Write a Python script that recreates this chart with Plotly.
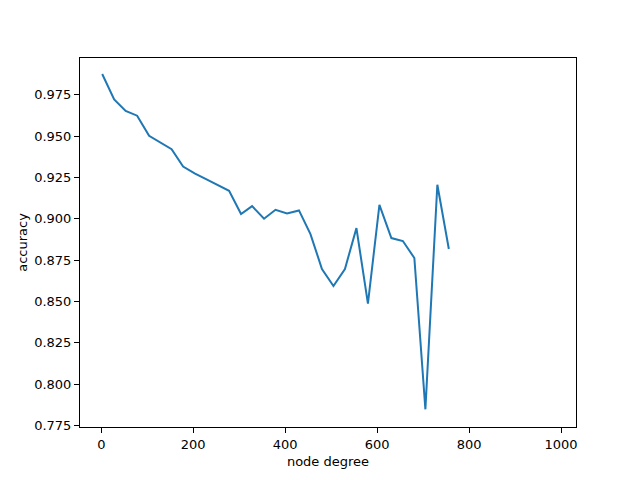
import plotly.graph_objects as go

# node degree (x) and accuracy (y)
node_degree = [2, 28, 53, 78, 104, 128, 153, 178, 204, 229, 254, 278, 304, 328, 354, 379,
               404, 430, 455, 480, 505, 530, 555, 580, 605, 631, 656, 681, 705, 731, 756]
accuracy = [0.9875, 0.9722, 0.9652, 0.9623, 0.9501, 0.9463, 0.9420, 0.9315, 0.9273, 0.9238,
            0.9203, 0.9169, 0.9028, 0.9076, 0.9000, 0.9054, 0.9032, 0.9050, 0.8907, 0.8696,
            0.8593, 0.8696, 0.8943, 0.8486, 0.9084, 0.8883, 0.8865, 0.8762, 0.7847, 0.9205, 0.8817]

x_ticks = [0, 200, 400, 600, 800, 1000]
y_ticks = [0.775, 0.800, 0.825, 0.850, 0.875, 0.900, 0.925, 0.950, 0.975]

fig = go.Figure()
fig.add_trace(go.Scatter(x=node_degree, y=accuracy, mode="lines",
                         line=dict(color="#1f77b4", width=2), showlegend=False))

axis_style = dict(showgrid=False, zeroline=False, showline=True, mirror=True,
                  linecolor="black", linewidth=1, ticks="outside", ticklen=5,
                  tickcolor="black", tickwidth=1,
                  tickfont=dict(family="DejaVu Sans", size=13, color="black"))

fig.update_xaxes(range=[-46.3, 1032.6], tickvals=x_ticks,
                 title=dict(text="node degree", font=dict(family="DejaVu Sans", size=13, color="black"),
                            standoff=6),
                 **axis_style)
fig.update_yaxes(range=[0.774, 0.9972], tickvals=y_ticks, tickformat=".3f",
                 title=dict(text="accuracy", font=dict(family="DejaVu Sans", size=13, color="black"),
                            standoff=3),
                 **axis_style)

# page body has an 8px margin, so shift the plot area back up/left
fig.update_layout(width=640, height=480, plot_bgcolor="white", paper_bgcolor="white",
                  margin=dict(l=72, r=72, t=50, b=61),
                  font=dict(family="DejaVu Sans", size=13, color="black"))

fig.write_html("out.html")
